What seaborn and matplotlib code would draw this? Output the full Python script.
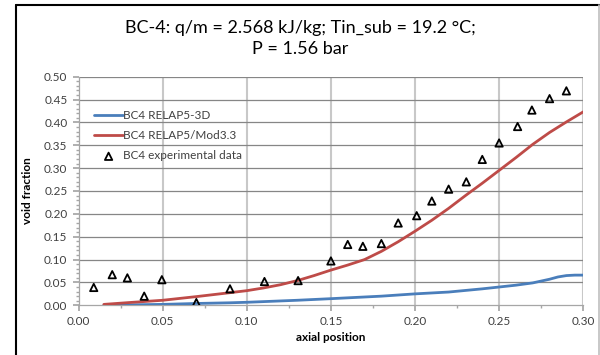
import numpy as np
import pandas as pd
import matplotlib
matplotlib.use("Agg")
import matplotlib.pyplot as plt
from matplotlib.lines import Line2D
from matplotlib.ticker import MultipleLocator, FormatStrFormatter
import seaborn as sns

# ---- data ----
exp_x = [0.009, 0.020, 0.029, 0.039, 0.0495, 0.070, 0.090, 0.1105, 0.1305,
         0.150, 0.160, 0.169, 0.180, 0.190, 0.201, 0.210, 0.220, 0.2305,
         0.240, 0.250, 0.261, 0.2695, 0.280, 0.290]
exp_y = [0.039, 0.067, 0.060, 0.020, 0.056, 0.006, 0.036, 0.052, 0.054,
         0.097, 0.133, 0.129, 0.135, 0.180, 0.196, 0.228, 0.254, 0.270,
         0.319, 0.355, 0.391, 0.427, 0.452, 0.469]

r3d_x = [0.015, 0.03, 0.05, 0.07, 0.09, 0.10, 0.13, 0.15, 0.18, 0.20, 0.22,
         0.24, 0.25, 0.26, 0.27, 0.275, 0.28, 0.285, 0.29, 0.295, 0.30]
r3d_y = [0.000, 0.001, 0.002, 0.004, 0.0055, 0.0066, 0.011, 0.0145, 0.020,
         0.025, 0.029, 0.036, 0.040, 0.044, 0.049, 0.053, 0.057, 0.062,
         0.065, 0.066, 0.066]

mod_x = [0.015, 0.03, 0.05, 0.07, 0.09, 0.10, 0.11, 0.12, 0.13, 0.14, 0.15,
         0.16, 0.17, 0.18, 0.19, 0.20, 0.21, 0.22, 0.23, 0.24, 0.25, 0.26,
         0.27, 0.28, 0.29, 0.30]
mod_y = [0.002, 0.006, 0.011, 0.019, 0.0276, 0.032, 0.038, 0.045, 0.054,
         0.065, 0.077, 0.088, 0.100, 0.118, 0.139, 0.162, 0.186, 0.212,
         0.240, 0.267, 0.295, 0.323, 0.352, 0.378, 0.401, 0.423]

labels = ["BC4 RELAP5-3D", "BC4 RELAP5/Mod3.3", "BC4 experimental data"]
title1 = "BC-4: q/m = 2.568 kJ/kg; Tin_sub = 19.2 °C;"
title2 = "P = 1.56 bar"
xlabel = "axial position"
ylabel = "void fraction"

sns.set_theme(style="white")
plt.rcParams['font.family'] = ['Lato', 'DejaVu Sans']

fig = plt.figure(figsize=(6.0, 3.55), dpi=100)
ax = fig.add_axes([0.131, 0.140, 0.841, 0.644])

df3d = pd.DataFrame({"x": r3d_x, "y": r3d_y})
dfmod = pd.DataFrame({"x": mod_x, "y": mod_y})
dfexp = pd.DataFrame({"x": exp_x, "y": exp_y})

sns.lineplot(data=df3d, x="x", y="y", ax=ax, color="#4a7ebb", linewidth=2.0,
             label=labels[0], zorder=3)
sns.lineplot(data=dfmod, x="x", y="y", ax=ax, color="#be4b48", linewidth=2.0,
             label=labels[1], zorder=3)
sns.scatterplot(data=dfexp, x="x", y="y", ax=ax, marker="^", s=28,
                facecolor="none", edgecolor="black", linewidth=1.3,
                label=labels[2], zorder=4)

ax.set_xlim(0, 0.30)
ax.set_ylim(0, 0.50)
ax.xaxis.set_major_locator(MultipleLocator(0.05))
ax.xaxis.set_minor_locator(MultipleLocator(0.025))
ax.yaxis.set_major_locator(MultipleLocator(0.05))
ax.yaxis.set_minor_locator(MultipleLocator(0.01))
ax.xaxis.set_major_formatter(FormatStrFormatter("%.2f"))
ax.yaxis.set_major_formatter(FormatStrFormatter("%.2f"))

ax.grid(False)
for v in np.arange(0.05, 0.301, 0.05):
    ax.axvline(v, color="#c8c8c8", linewidth=1.5, zorder=1)
for h in np.arange(0.05, 0.501, 0.05):
    ax.axhline(h, color="#868686", linewidth=0.9, zorder=1)

for s in ["top", "right"]:
    ax.spines[s].set_visible(False)
for s in ["left", "bottom"]:
    ax.spines[s].set_color("#a6a6a6")
    ax.spines[s].set_linewidth(0.9)

ax.tick_params(axis="both", which="major", direction="out", length=4,
               color="#a6a6a6", labelsize=8.5, labelcolor="#404040",
               bottom=True, left=True, pad=4)
ax.tick_params(axis="both", which="minor", direction="out", length=2.5,
               color="#a6a6a6", bottom=True, left=True)

ax.set_xlabel(xlabel, fontsize=8.5, fontweight="bold", color="black", labelpad=3)
ax.set_ylabel(ylabel, fontsize=8.5, fontweight="bold", color="black", labelpad=8)

fig.text(0.5, 1 - 28/355, title1, ha="center", va="center", fontsize=13,
         color="black")
fig.text(0.5, 1 - 49/355, title2, ha="center", va="center", fontsize=13,
         color="black")

leg = ax.legend(loc="upper left", bbox_to_anchor=(0.022, 0.875), frameon=False,
                fontsize=8.5, handlelength=2.4, handletextpad=0.05,
                labelspacing=0.78, borderaxespad=0)
for t in leg.get_texts():
    t.set_color("#404040")

# figure border lines
fig.add_artist(Line2D([15.5/600, 1.0], [1 - 4.5/355, 1 - 4.5/355],
                      transform=fig.transFigure, color="black", linewidth=1.5))
fig.add_artist(Line2D([15.5/600, 15.5/600], [0, 1 - 4.5/355],
                      transform=fig.transFigure, color="black", linewidth=1.5))
fig.add_artist(Line2D([599/600, 599/600], [0, 1 - 4.5/355],
                      transform=fig.transFigure, color="#bfbfbf", linewidth=1.2))

fig.savefig("out.png", dpi=100, facecolor="white")
